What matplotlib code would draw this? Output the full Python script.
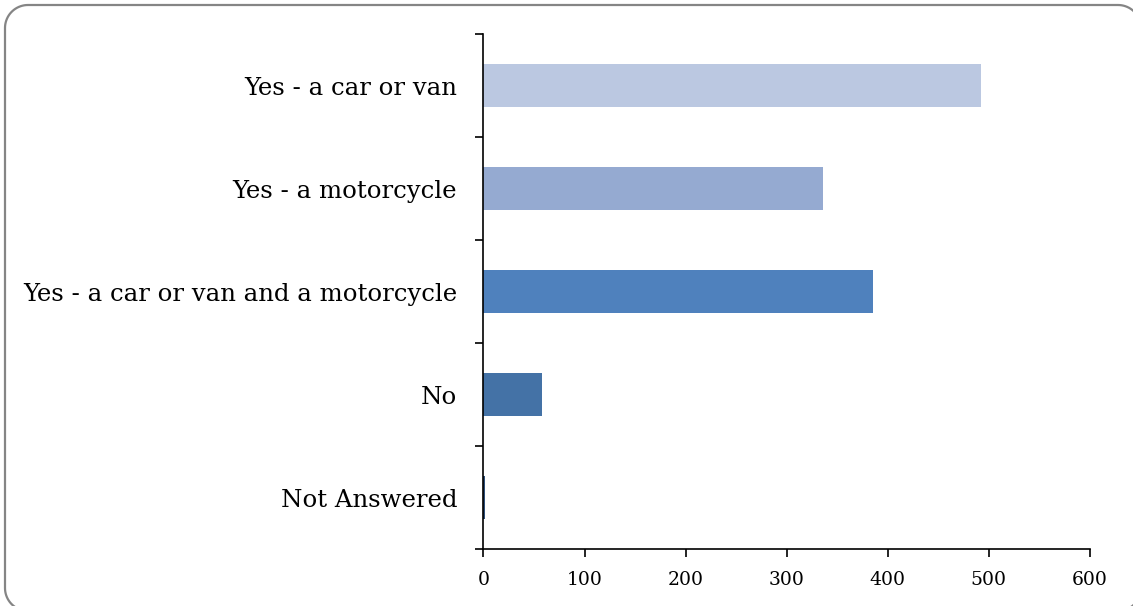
import matplotlib
matplotlib.use("Agg")
import matplotlib.pyplot as plt
import numpy as np

# categories, top to bottom as shown
categories = ["Yes - a car or van", "Yes - a motorcycle",
              "Yes - a car or van and a motorcycle", "No", "Not Answered"]
values = [492, 336, 385, 58, 2]
colors = ["#BBC8E1", "#95AAD1", "#4F81BD", "#4472A6", "#2E4F7A"]
xticks = [0, 100, 200, 300, 400, 500, 600]

plt.rcParams['font.family'] = ['DejaVu Serif']

fig = plt.figure(figsize=(11.33, 6.06), dpi=100)

# background axes in pixel units for the rounded grey frame
# (frame runs a little past the right and bottom edges like the original)
bg = fig.add_axes([0, 0, 1, 1], zorder=-5)
bg.set_xlim(0, 1133)
bg.set_ylim(0, 606)
bg.axis('off')
x0, y0, x1, y1, r = 5, -5, 1141, 601, 23
fx, fy = [], []
for cx, cy, a0 in [(x1 - r, y1 - r, 0), (x0 + r, y1 - r, 90),
                   (x0 + r, y0 + r, 180), (x1 - r, y0 + r, 270)]:
    t = np.radians(np.linspace(a0, a0 + 90, 20))
    fx.extend(cx + r * np.cos(t))
    fy.extend(cy + r * np.sin(t))
fx.append(fx[0])
fy.append(fy[0])
bg.plot(fx, fy, color="#858585", linewidth=1.6)

ax = fig.add_axes([0.4267, 0.094, 0.5353, 0.8499])
ax.set_facecolor("none")

pos = list(range(len(categories)))[::-1]
ax.barh(pos, values, height=0.41, color=colors)

ax.set_xlim(0, 600)
ax.set_ylim(-0.5, len(categories) - 0.5)
ax.set_xticks(xticks)
ax.set_xticklabels([str(t) for t in xticks], fontsize=13.5)

# category labels, ticks sit between categories
ax.set_yticks(pos)
ax.set_yticklabels(categories, fontsize=17.6)
ax.tick_params(axis='y', length=0, pad=19)
ax.set_yticks([p + 0.5 for p in pos] + [-0.5], minor=True)
ax.tick_params(axis='y', which='minor', length=6, width=1.2, direction='out')
ax.tick_params(axis='x', length=6, width=1.2, direction='out', pad=10)

for side in ['top', 'right']:
    ax.spines[side].set_visible(False)
ax.spines['left'].set_linewidth(1.2)
ax.spines['bottom'].set_linewidth(1.2)

plt.savefig("out.png", dpi=100)
